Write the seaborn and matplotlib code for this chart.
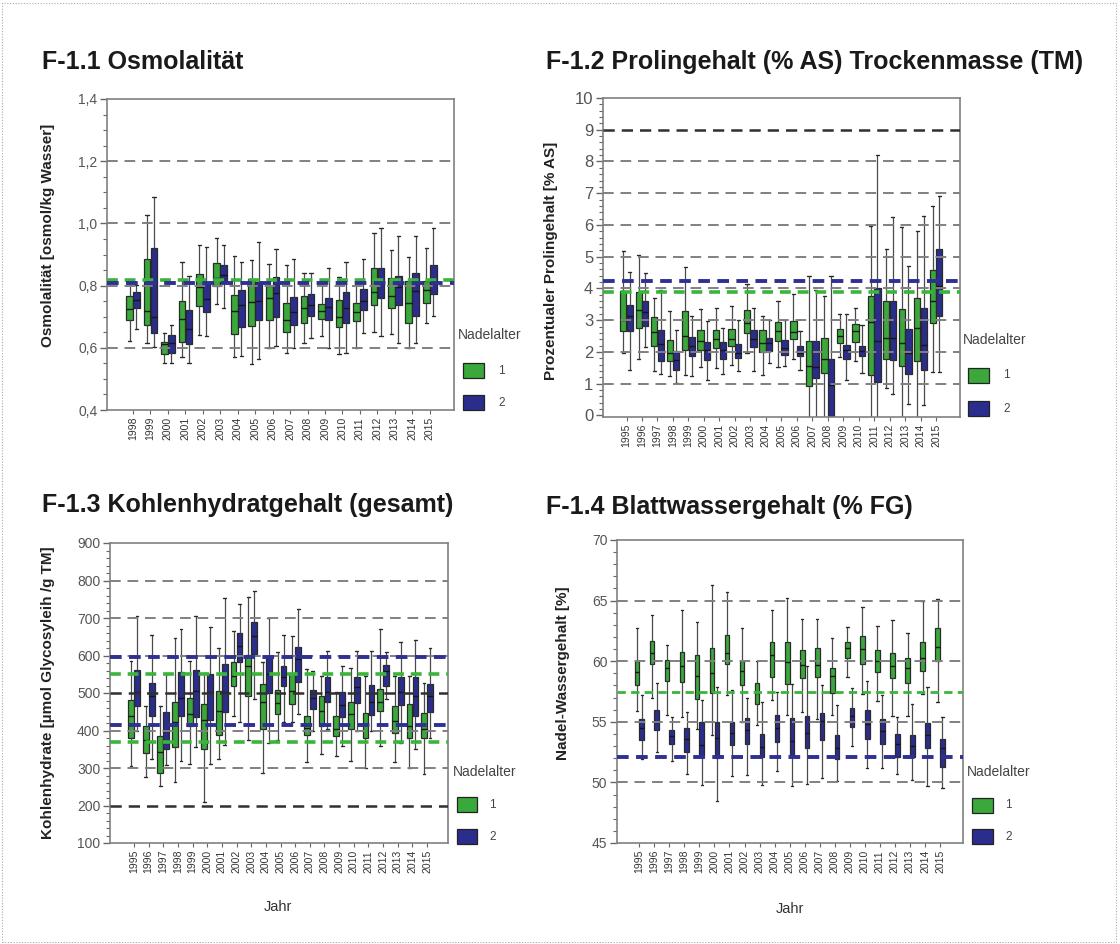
import numpy as np
import pandas as pd
import matplotlib
matplotlib.use("Agg")
import matplotlib.pyplot as plt
from matplotlib.patches import Rectangle
from matplotlib.ticker import MultipleLocator, FuncFormatter
import seaborn as sns

sns.set_theme(style="white")
plt.rcParams['font.family'] = ['Liberation Sans', 'DejaVu Sans']

# ---------------- data (lo, q1, median, q3, hi) per year ----------------
OSM_YEARS = ["1998", "1999", "2000", "2001", "2002", "2003", "2004", "2005", "2006",
             "2007", "2008", "2009", "2010", "2011", "2012", "2013", "2014", "2015"]
OSM_AGE1 = [(0.621, 0.688, 0.725, 0.766, 0.808), (0.614, 0.674, 0.718, 0.886, 1.028),
            (0.552, 0.579, 0.611, 0.618, 0.648), (0.571, 0.619, 0.691, 0.752, 0.876),
            (0.642, 0.736, 0.796, 0.838, 0.930), (0.742, 0.798, 0.825, 0.873, 0.954),
            (0.571, 0.645, 0.718, 0.771, 0.894), (0.547, 0.670, 0.748, 0.820, 0.883),
            (0.598, 0.688, 0.760, 0.800, 0.871), (0.582, 0.651, 0.689, 0.743, 0.866),
            (0.617, 0.681, 0.727, 0.767, 0.839), (0.639, 0.692, 0.719, 0.740, 0.810),
            (0.579, 0.668, 0.700, 0.755, 0.828), (0.600, 0.686, 0.716, 0.743, 0.810),
            (0.651, 0.739, 0.780, 0.855, 0.970), (0.643, 0.729, 0.767, 0.825, 0.914),
            (0.600, 0.681, 0.743, 0.815, 0.891), (0.680, 0.743, 0.786, 0.815, 0.920)]
OSM_AGE2 = [(0.661, 0.728, 0.755, 0.780, 0.803), (0.602, 0.648, 0.698, 0.921, 1.084),
            (0.550, 0.582, 0.614, 0.641, 0.672), (0.550, 0.611, 0.662, 0.721, 0.830),
            (0.637, 0.714, 0.758, 0.812, 0.923), (0.728, 0.808, 0.835, 0.867, 0.930),
            (0.573, 0.666, 0.739, 0.785, 0.876), (0.565, 0.688, 0.752, 0.810, 0.940),
            (0.605, 0.698, 0.776, 0.827, 0.919), (0.600, 0.673, 0.714, 0.764, 0.885),
            (0.633, 0.702, 0.739, 0.773, 0.842), (0.600, 0.689, 0.730, 0.759, 0.855),
            (0.582, 0.681, 0.729, 0.778, 0.875), (0.646, 0.721, 0.750, 0.789, 0.887),
            (0.639, 0.759, 0.812, 0.857, 0.984), (0.617, 0.739, 0.796, 0.832, 0.960),
            (0.614, 0.702, 0.782, 0.839, 0.960), (0.703, 0.773, 0.810, 0.866, 0.986)]
OSM_REF_GRAY = [0.6, 0.8, 1.0, 1.2]
OSM_REF_DARK = []
OSM_REF_AGE1 = [0.818]
OSM_REF_AGE2 = [0.808]

YEARS = ["1995", "1996", "1997", "1998", "1999", "2000", "2001", "2002", "2003", "2004",
         "2005", "2006", "2007", "2008", "2009", "2010", "2011", "2012", "2013", "2014", "2015"]

PRO_AGE1 = [(1.97, 2.65, 3.02, 3.91, 5.17), (1.78, 2.75, 3.31, 3.88, 5.06),
            (1.40, 2.20, 2.62, 3.10, 3.70), (1.25, 1.70, 1.97, 2.39, 3.28),
            (1.28, 2.05, 2.50, 3.29, 4.69), (1.52, 2.07, 2.36, 2.70, 3.35),
            (1.49, 2.12, 2.41, 2.70, 3.38), (1.60, 2.18, 2.41, 2.72, 3.44),
            (1.97, 2.60, 2.91, 3.31, 4.14), (1.26, 1.99, 2.28, 2.70, 3.12),
            (1.52, 2.36, 2.65, 2.93, 3.59), (1.78, 2.41, 2.62, 2.99, 3.83),
            (-0.6, 0.94, 1.55, 2.36, 4.38), (-0.6, 1.34, 1.78, 2.44, 3.75),
            (1.84, 2.28, 2.49, 2.72, 3.20), (1.70, 2.30, 2.65, 2.89, 3.38),
            (-0.6, 1.28, 2.93, 3.75, 5.96), (0.86, 1.78, 2.44, 3.59, 5.24),
            (-0.6, 1.55, 2.28, 3.35, 5.93), (-0.6, 1.73, 2.75, 3.70, 5.80),
            (1.36, 2.91, 3.61, 4.57, 6.59)]
PRO_AGE2 = [(1.42, 2.65, 3.12, 3.49, 4.51), (2.15, 2.83, 3.25, 3.62, 4.49),
            (1.30, 1.72, 2.25, 2.70, 3.96), (1.02, 1.44, 1.76, 2.02, 2.70),
            (1.25, 1.86, 2.18, 2.47, 3.14), (1.13, 1.76, 2.05, 2.30, 2.96),
            (1.30, 1.78, 2.07, 2.31, 2.75), (1.39, 1.81, 1.97, 2.25, 3.02),
            (1.39, 2.15, 2.41, 2.70, 3.38), (1.65, 2.02, 2.28, 2.44, 3.02),
            (1.55, 1.89, 2.12, 2.39, 3.02), (1.42, 1.86, 1.97, 2.18, 2.65),
            (-0.6, 1.18, 1.52, 2.33, 3.96), (-0.9, -0.4, 0.97, 1.78, 4.40),
            (1.13, 1.78, 2.05, 2.23, 3.20), (1.34, 1.86, 2.02, 2.20, 2.86),
            (-0.6, 1.04, 2.36, 4.01, 8.21), (0.68, 1.76, 2.44, 3.59, 6.25),
            (0.37, 1.31, 1.97, 2.72, 4.70), (0.34, 1.42, 2.23, 3.38, 6.27),
            (1.36, 3.14, 4.07, 5.24, 6.90)]
PRO_REF_GRAY = [1, 2, 3, 4, 5, 6, 7, 8]
PRO_REF_DARK = [9]
PRO_REF_AGE1 = [3.9]
PRO_REF_AGE2 = [4.25]

KH_AGE1 = [(306, 379, 439, 481, 586), (277, 340, 375, 413, 466), (251, 286, 343, 386, 466),
           (263, 357, 422, 477, 646), (310, 413, 444, 488, 585), (210, 352, 429, 471, 553),
           (324, 388, 453, 506, 619), (439, 520, 546, 582, 666), (375, 491, 571, 601, 755),
           (288, 404, 477, 524, 584), (375, 444, 473, 509, 610), (422, 471, 506, 553, 653),
           (315, 388, 406, 438, 564), (337, 411, 453, 493, 546), (331, 386, 404, 439, 502),
           (319, 404, 444, 477, 566), (299, 381, 417, 448, 546), (359, 453, 475, 512, 671),
           (315, 393, 426, 466, 546), (301, 381, 413, 471, 546), (284, 379, 404, 448, 527)]
KH_AGE2 = [(399, 466, 502, 562, 706), (324, 438, 491, 527, 655), (308, 350, 399, 450, 551),
           (319, 439, 488, 555, 671), (355, 437, 506, 562, 705), (310, 429, 502, 551, 675),
           (361, 450, 502, 577, 753), (422, 582, 626, 660, 738), (484, 604, 651, 690, 771),
           (368, 500, 551, 600, 699), (422, 519, 542, 571, 655), (444, 530, 591, 622, 723),
           (399, 457, 488, 509, 560), (404, 477, 502, 542, 613), (359, 435, 468, 503, 571),
           (399, 473, 515, 542, 613), (399, 441, 477, 521, 613), (484, 520, 560, 575, 609),
           (368, 468, 502, 542, 635), (352, 439, 493, 542, 642), (381, 450, 493, 524, 619)]
KH_REF_GRAY = [300, 400, 600, 700, 800]
KH_REF_DARK = [200, 500]
KH_REF_AGE1 = [370, 552]
KH_REF_AGE2 = [415, 597]

WG_AGE1 = [(55.9, 58.0, 59.1, 60.0, 62.7), (57.0, 59.8, 60.7, 61.7, 63.8), (55.6, 58.4, 59.4, 60.1, 61.3),
           (55.4, 58.3, 59.6, 60.8, 64.2), (54.4, 56.9, 58.8, 60.5, 63.2), (53.9, 57.4, 59.0, 61.1, 66.3),
           (57.2, 59.8, 60.7, 62.2, 65.7), (55.0, 58.0, 59.2, 60.0, 62.7), (54.7, 56.5, 57.4, 58.2, 60.0),
           (56.8, 58.7, 60.5, 61.6, 64.2), (55.6, 58.1, 59.9, 61.6, 65.2), (55.8, 58.6, 59.7, 60.9, 63.5),
           (55.2, 58.7, 59.7, 61.1, 63.5), (55.6, 57.4, 58.8, 59.4, 61.9), (58.7, 60.3, 61.1, 61.6, 62.8),
           (57.3, 59.8, 61.0, 62.1, 64.5), (56.7, 59.1, 60.0, 60.9, 62.9), (55.5, 58.6, 59.6, 60.7, 63.4),
           (55.5, 58.2, 59.4, 60.3, 62.3), (57.3, 59.2, 60.3, 61.6, 65.0), (56.6, 60.0, 61.2, 62.7, 65.1)]
WG_AGE2 = [(51.9, 53.5, 54.5, 55.2, 57.2), (52.5, 54.3, 55.0, 56.0, 58.2), (51.8, 53.2, 53.8, 54.3, 55.4),
           (50.7, 52.5, 53.6, 54.5, 55.8), (49.8, 52.1, 53.1, 55.0, 56.8), (48.5, 52.0, 53.7, 55.0, 57.9),
           (50.5, 53.1, 54.1, 55.0, 57.6), (50.6, 53.2, 54.3, 55.3, 57.0), (49.8, 52.1, 52.9, 54.0, 56.6),
           (50.9, 53.3, 54.5, 55.6, 57.5), (49.7, 52.1, 53.4, 55.3, 58.1), (49.9, 52.8, 54.1, 55.5, 59.6),
           (50.4, 53.5, 55.1, 55.7, 58.0), (50.1, 51.9, 52.8, 53.9, 56.4), (53.0, 54.6, 55.5, 56.1, 57.8),
           (51.2, 53.6, 54.8, 56.0, 58.4), (51.2, 53.2, 54.2, 55.2, 57.2), (50.7, 52.1, 53.2, 54.0, 55.4),
           (50.2, 52.1, 53.0, 53.9, 56.5), (49.7, 52.8, 53.9, 54.9, 57.9), (49.5, 51.3, 52.8, 53.6, 55.4)]
WG_REF_GRAY = [50, 55, 60, 65]
WG_REF_DARK = []
WG_REF_AGE1 = [57.45]
WG_REF_AGE2 = [52.1]

AGES = ["1", "2"]

# ---------------- style ----------------
W, H = 1120, 944
GREEN = "#3aa83a"
BLUE = "#2b2d8c"
GREEN_LINE = "#3cb43c"
BLUE_LINE = "#2e3192"
GRAY_LINE = "#808080"
DARK_LINE = "#303030"

fig = plt.figure(figsize=(W / 100, H / 100), dpi=100)
fig.patch.set_facecolor("white")


def fx(x):
    return x / W


def fy(y):
    return 1 - y / H


def make_df(years, age1, age2):
    rows = []
    for yr, a, b in zip(years, age1, age2):
        for v in a:
            rows.append((yr, "1", v))
        for v in b:
            rows.append((yr, "2", v))
    return pd.DataFrame(rows, columns=["Jahr", "Nadelalter", "Wert"])


def panel(rect_px, years, age1, age2, ylim, xlim, width, ref_gray, ref_dark,
          ref1, ref2, ylabel, ylabel_xy, major, minor, yfmt, ytick_size,
          ref1_lw=2.6, ref2_lw=2.8):
    x0, y0, x1, y1 = rect_px
    ax = fig.add_axes([fx(x0), fy(y1), (x1 - x0) / W, (y1 - y0) / H])
    df = make_df(years, age1, age2)
    sns.boxplot(data=df, x="Jahr", y="Wert", hue="Nadelalter", hue_order=AGES,
                order=years, palette={"1": GREEN, "2": BLUE}, saturation=1,
                whis=(0, 100), width=width, gap=0.04, linewidth=0.9,
                linecolor="#2a2a2a", legend=False, ax=ax,
                medianprops=dict(color="#151515", linewidth=1.0),
                whiskerprops=dict(color="#4a4a4a", linewidth=0.9),
                capprops=dict(color="#2a2a2a", linewidth=1.0))
    for v in ref_gray:
        ax.axhline(v, color=GRAY_LINE, lw=1.4, ls=(0, (5.5, 3.5)), zorder=6)
    for v in ref_dark:
        ax.axhline(v, color=DARK_LINE, lw=1.8, ls=(0, (4.5, 2.8)), zorder=6)
    for v in ref1:
        ax.axhline(v, color=GREEN_LINE, lw=ref1_lw, ls=(0, (3.0, 1.9)), zorder=7)
    for v in ref2:
        ax.axhline(v, color=BLUE_LINE, lw=ref2_lw, ls=(0, (3.0, 1.9)), zorder=7)
    ax.set_ylim(*ylim)
    ax.set_xlim(*xlim)
    ax.yaxis.set_major_locator(MultipleLocator(major))
    ax.yaxis.set_minor_locator(MultipleLocator(minor))
    ax.yaxis.set_major_formatter(FuncFormatter(yfmt))
    ax.tick_params(axis="y", which="major", length=5, width=1, color="#666",
                   labelsize=ytick_size, labelcolor="#555", left=True, pad=2)
    ax.tick_params(axis="y", which="minor", length=3, width=0.8, color="#666", left=True)
    ax.tick_params(axis="x", which="major", length=3, width=0.8, color="#666",
                   labelsize=7.5, labelcolor="#333", labelrotation=90, bottom=True, pad=2)
    ax.set_xlabel("")
    ax.set_ylabel(ylabel, fontsize=11, fontweight="bold", color="#222")
    ax.yaxis.set_label_coords(*ylabel_xy)
    for s in ax.spines.values():
        s.set_color("#808080")
        s.set_linewidth(1.2)
    ax.set_facecolor("white")
    return ax


def legend(title_xy, patch_x, patch1_y, patch2_y, label_x):
    fig.text(fx(title_xy[0]), fy(title_xy[1]), "Nadelalter", fontsize=10,
             color="#444", va="center", ha="left")
    pw, ph = patch_x[1] - patch_x[0], 15
    for (py, col, lab) in ((patch1_y, GREEN, "1"), (patch2_y, BLUE, "2")):
        fig.add_artist(Rectangle((fx(patch_x[0]), fy(py + ph)), pw / W, ph / H,
                                 transform=fig.transFigure, facecolor=col,
                                 edgecolor="#222", lw=0.9))
        fig.text(fx(label_x), fy(py + ph / 2), lab, fontsize=8.5, color="#444",
                 va="center", ha="left")


comma1 = lambda v, p: f"{v:.1f}".replace(".", ",")
intfmt = lambda v, p: f"{v:.0f}"

panel((107, 99, 454, 410), OSM_YEARS, OSM_AGE1, OSM_AGE2, (0.4, 1.4), (-1.49, 18.39), 0.8,
      OSM_REF_GRAY, OSM_REF_DARK, OSM_REF_AGE1, OSM_REF_AGE2,
      "Osmolalität [osmol/kg Wasser]", (-0.15, 0.56), 0.2, 0.05, comma1, 10)
panel((603, 98, 960, 417), YEARS, PRO_AGE1, PRO_AGE2, (-0.05, 10), (-1.52, 21.55), 0.85,
      PRO_REF_GRAY, PRO_REF_DARK, PRO_REF_AGE1, PRO_REF_AGE2,
      "Prozentualer Prolingehalt [% AS]", (-0.126, 0.49), 1, 0.2, intfmt, 12)
panel((110, 543, 448, 843), YEARS, KH_AGE1, KH_AGE2, (100, 900), (-1.64, 21.43), 0.82,
      KH_REF_GRAY, KH_REF_DARK, KH_REF_AGE1, KH_REF_AGE2,
      "Kohlenhydrate [µmol Glycosyleih /g TM]", (-0.163, 0.5), 100, 20, intfmt, 10)
panel((617, 540, 963, 843), YEARS, WG_AGE1, WG_AGE2, (45, 70), (-1.48, 21.53), 0.64,
      WG_REF_GRAY, WG_REF_DARK, WG_REF_AGE1, WG_REF_AGE2,
      "Nadel-Wassergehalt [%]", (-0.136, 0.56), 5, 1, intfmt, 10,
      ref1_lw=2.0, ref2_lw=2.8)

legend((458, 335), (463, 484), 363, 395, 498)
legend((963, 340), (968, 989), 368, 401, 1003)
legend((453, 772), (457, 477), 797, 829, 489)
legend((967, 772), (972, 993), 798, 829, 1005)

# titles
TITLE_KW = dict(fontsize=18, fontweight="bold", color="#1a1a1a", va="center", ha="left")
fig.text(fx(42), fy(62), "F-1.1 Osmolalität", **TITLE_KW)
fig.text(fx(546), fy(62), "F-1.2 Prolingehalt (% AS) Trockenmasse (TM)", **TITLE_KW)
fig.text(fx(42), fy(505), "F-1.3 Kohlenhydratgehalt (gesamt)", **TITLE_KW)
fig.text(fx(546), fy(507), "F-1.4 Blattwassergehalt (% FG)", **TITLE_KW)

fig.text(fx(278), fy(907), "Jahr", fontsize=10.5, color="#333", va="center", ha="center")
fig.text(fx(790), fy(909), "Jahr", fontsize=10.5, color="#333", va="center", ha="center")

# dotted frame around the figure
fig.add_artist(Rectangle((0.002, 0.002), 0.994, 0.995, transform=fig.transFigure,
                         fill=False, edgecolor="#aaaaaa", lw=0.8, ls=(0, (1, 1.5))))

fig.savefig("out.png", dpi=100, facecolor="white")
